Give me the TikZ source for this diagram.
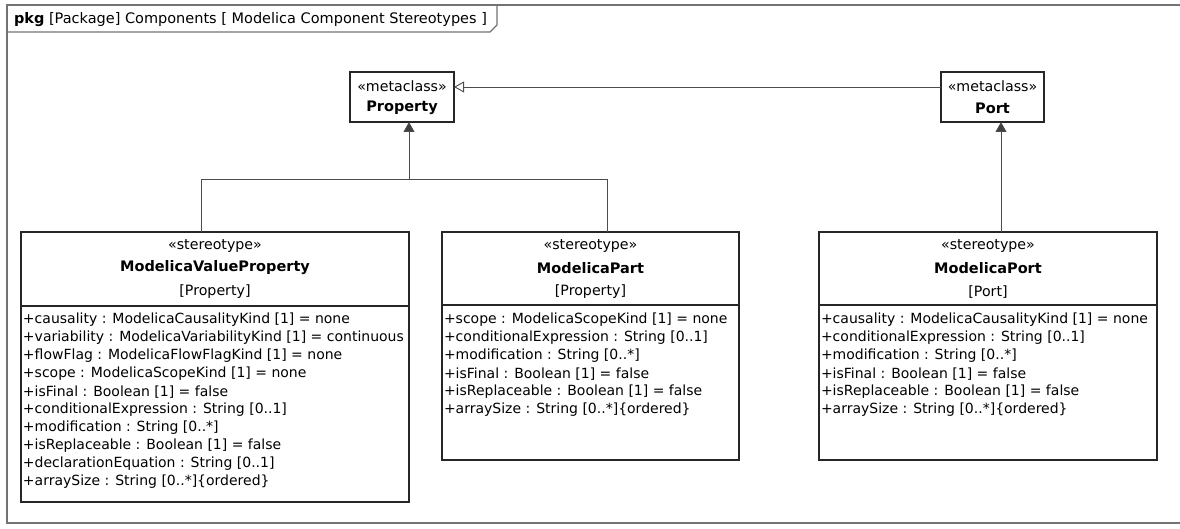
\documentclass[tikz,border=0pt]{standalone}
\usepackage{fontspec}
\setmainfont{DejaVu Sans}
\usetikzlibrary{arrows.meta,calc}
\begin{document}
\begin{tikzpicture}[x=1pt,y=-1pt,
  every node/.style={inner sep=0pt,outer sep=0pt},
  classbox/.style={draw=black!85,line width=1.1pt,rectangle,anchor=north west},
  txt/.style={font=\fontsize{14.2}{16}\selectfont,text=black},
  bold/.style={font=\fontsize{14.5}{16}\selectfont\bfseries,text=black},
  attr/.style={font=\fontsize{14}{16}\selectfont,text=black,anchor=west},
  frameline/.style={draw=black!55,line width=1.2pt},
  conn/.style={draw=black!70,line width=0.9pt},
  gen/.style={conn,-{Triangle[length=10pt,width=11pt,fill=black!75]}},
  genopen/.style={conn,-{Triangle[open,length=10pt,width=11pt]}}
]
\useasboundingbox (0,0) rectangle (1180,529);
% frame
\draw[frameline] (1182,5) -- (7,5) -- (7,523) -- (1182,523);
\draw[frameline] (7,32) -- (490,32) -- (497,25) -- (497,5);
\node[anchor=base west,font=\fontsize{14.5}{16}\selectfont] (title) at (14,24) {\textbf{pkg} [Package] Components [ Modelica Component Stereotypes ]};
% metaclasses
\node[classbox,minimum width=104pt,minimum height=50pt] (prop) at (350,72) {};
\node[txt] (propS) at (402,86) {«metaclass»};
\node[bold] (propN) at (402,108) {Property};
\node[classbox,minimum width=103pt,minimum height=50pt] (port) at (941,72) {};
\node[txt] (portS) at (992.5,86) {«metaclass»};
\node[bold] (portN) at (992.5,108) {Port};
% ModelicaValueProperty
\node[classbox,minimum width=388pt,minimum height=270pt] (vp) at (21,232) {};
\draw[classbox] (21,306) -- (409,306);
\node[txt] (vpS) at (215,246) {«stereotype»};
\node[bold] (vpN) at (215,268) {ModelicaValueProperty};
\node[txt] (vpB) at (215,292) {[Property]};
\node[attr] (vp1) at (23,320) {+causality : ModelicaCausalityKind [1] = none};
\node[attr] (vp2) at (23,338) {+variability : ModelicaVariabilityKind [1] = continuous};
\node[attr] (vp3) at (23,356) {+flowFlag : ModelicaFlowFlagKind [1] = none};
\node[attr] (vp4) at (23,374) {+scope : ModelicaScopeKind [1] = none};
\node[attr] (vp5) at (23,392) {+isFinal : Boolean [1] = false};
\node[attr] (vp6) at (23,410) {+conditionalExpression : String [0..1]};
\node[attr] (vp7) at (23,428) {+modification : String [0..*]};
\node[attr] (vp8) at (23,446) {+isReplaceable : Boolean [1] = false};
\node[attr] (vp9) at (23,464) {+declarationEquation : String [0..1]};
\node[attr] (vp10) at (23,482) {+arraySize : String [0..*]\{ordered\}};
% ModelicaPart
\node[classbox,minimum width=297pt,minimum height=228pt] (part) at (442,232) {};
\draw[classbox] (442,305) -- (739,305);
\node[txt] (partS) at (590.5,246) {«stereotype»};
\node[bold] (partN) at (590.5,268) {ModelicaPart};
\node[txt] (partB) at (590.5,292) {[Property]};
\node[attr] (pa1) at (444,320) {+scope : ModelicaScopeKind [1] = none};
\node[attr] (pa2) at (444,338) {+conditionalExpression : String [0..1]};
\node[attr] (pa3) at (444,356) {+modification : String [0..*]};
\node[attr] (pa4) at (444,374) {+isFinal : Boolean [1] = false};
\node[attr] (pa5) at (444,392) {+isReplaceable : Boolean [1] = false};
\node[attr] (pa6) at (444,410) {+arraySize : String [0..*]\{ordered\}};
% ModelicaPort
\node[classbox,minimum width=338pt,minimum height=228pt] (mp) at (819,232) {};
\draw[classbox] (819,305) -- (1157,305);
\node[txt] (mpS) at (988,246) {«stereotype»};
\node[bold] (mpN) at (988,268) {ModelicaPort};
\node[txt] (mpB) at (988,292) {[Port]};
\node[attr] (mp1) at (821,320) {+causality : ModelicaCausalityKind [1] = none};
\node[attr] (mp2) at (821,338) {+conditionalExpression : String [0..1]};
\node[attr] (mp3) at (821,356) {+modification : String [0..*]};
\node[attr] (mp4) at (821,374) {+isFinal : Boolean [1] = false};
\node[attr] (mp5) at (821,392) {+isReplaceable : Boolean [1] = false};
\node[attr] (mp6) at (821,410) {+arraySize : String [0..*]\{ordered\}};
% connectors
\coordinate (j) at (409,179);
\draw[conn] ($(vp.north west)+(180,0)$) |- (j);
\draw[conn] ($(part.north west)+(165,0)$) |- (j);
\draw[gen] (j) -- (j |- prop.south);
\draw[gen] ($(mp.north west)+(182,0)$) -- ($(port.south west)+(60,0)$);
\draw[genopen] (port.west |- 0,87) -- (prop.east |- 0,87);
\end{tikzpicture}
\end{document}
